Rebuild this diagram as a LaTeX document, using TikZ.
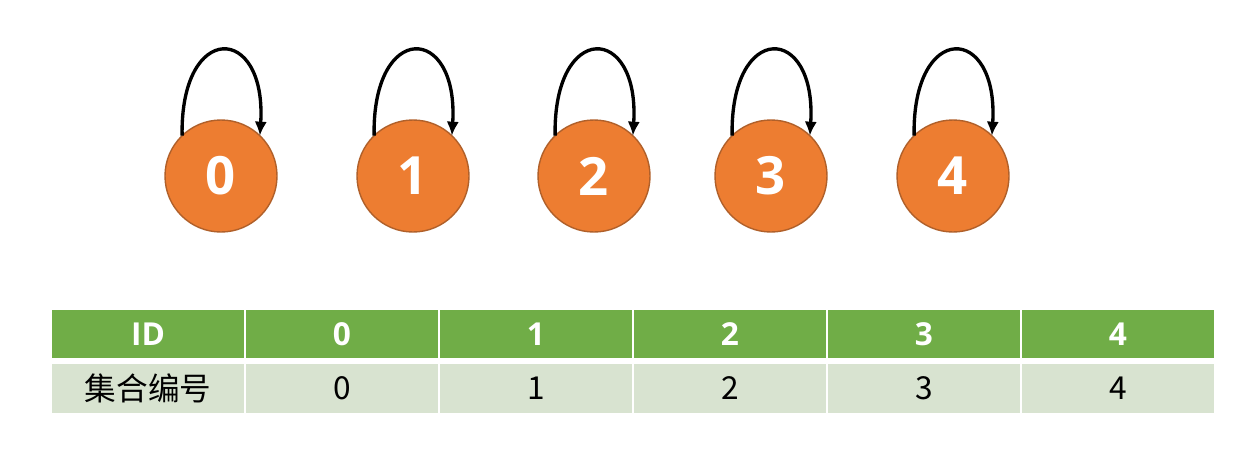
\documentclass[tikz,border=0pt]{standalone}
\usepackage{fontspec}
\setmainfont{Open Sans}
\newfontfamily\cjk{Noto Sans CJK SC}
\usepackage{tikz}
\usetikzlibrary{positioning,arrows.meta}

\definecolor{nodeorange}{HTML}{ED7D31}
\definecolor{nodeedge}{HTML}{B0602A}
\definecolor{headgreen}{HTML}{70AD47}
\definecolor{rowgreen}{HTML}{D8E3D0}

\begin{document}
\begin{tikzpicture}[
    setnode/.style={circle, draw=nodeedge, fill=nodeorange, line width=0.8pt, minimum size=2.24cm, inner sep=0pt, outer sep=0pt, text=white, font=\bfseries\fontsize{30}{32}\selectfont},
    headcell/.style={fill=headgreen, minimum width=3.84cm, minimum height=0.96cm, inner sep=0pt, outer sep=0pt, text=white, font=\bfseries\fontsize{18}{20}\selectfont},
    rowcell/.style={fill=rowgreen, minimum width=3.84cm, minimum height=0.98cm, inner sep=0pt, outer sep=0pt, text=black, font=\cjk\fontsize{18}{20}\selectfont},
    selfloop/.style={-{Latex[length=8pt,width=7pt]}, line width=1.9pt, black}
    ]
        \useasboundingbox (0,0) rectangle (24.92,-9);

        %Nodes
        \node[setnode]
            (s0)    at (4.42,-3.52)     {0};
        \node[setnode]
            (s1)    [right=1.60 of s0]  {1};
        \node[setnode]
            (s2)    [right=1.38 of s1]  {2};
        \node[setnode]
            (s3)    [right=1.30 of s2]  {3};
        \node[setnode]
            (s4)    [right=1.40 of s3]  {4};

        %Table
        \node[headcell]
            (id)    at (2.96,-6.68)     {ID};
        \node[headcell]
            (id0)   [right=0.04 of id]  {0};
        \node[headcell]
            (id1)   [right=0.04 of id0] {1};
        \node[headcell]
            (id2)   [right=0.04 of id1] {2};
        \node[headcell]
            (id3)   [right=0.04 of id2] {3};
        \node[headcell]
            (id4)   [right=0.04 of id3] {4};
        \node[rowcell]
            (set)   [below=0.12 of id]  {集合编号};
        \node[rowcell]
            (set0)  [below=0.12 of id0] {0};
        \node[rowcell]
            (set1)  [below=0.12 of id1] {1};
        \node[rowcell]
            (set2)  [below=0.12 of id2] {2};
        \node[rowcell]
            (set3)  [below=0.12 of id3] {3};
        \node[rowcell]
            (set4)  [below=0.12 of id4] {4};

        %Lines
        \draw[selfloop]
            (s0.134) .. controls +(-0.04,2.3) and +(0.14,2.25) .. (s0.46);
        \draw[selfloop]
            (s1.134) .. controls +(-0.04,2.3) and +(0.14,2.25) .. (s1.46);
        \draw[selfloop]
            (s2.134) .. controls +(-0.04,2.3) and +(0.14,2.25) .. (s2.46);
        \draw[selfloop]
            (s3.134) .. controls +(-0.04,2.3) and +(0.14,2.25) .. (s3.46);
        \draw[selfloop]
            (s4.134) .. controls +(-0.04,2.3) and +(0.14,2.25) .. (s4.46);
    \end{tikzpicture}
\end{document}
